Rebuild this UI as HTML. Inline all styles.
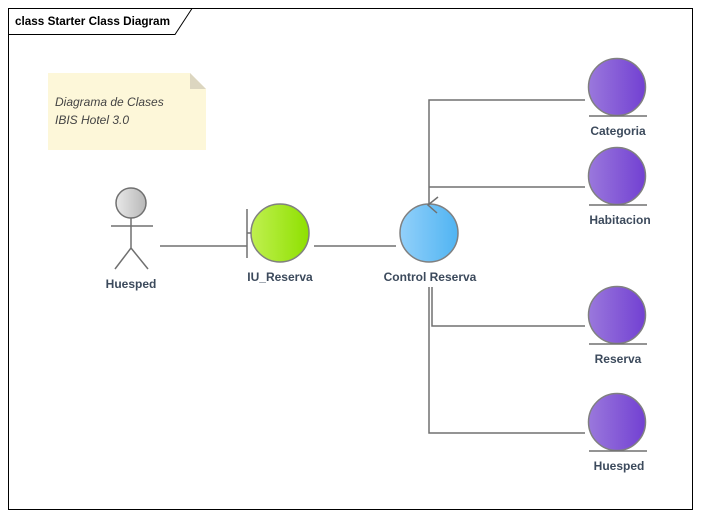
<!DOCTYPE html>
<html><head><style>body{margin:0;background:#fff}svg{display:block}text{font-family:"Liberation Sans",sans-serif}</style></head><body>
<svg width="701" height="518" viewBox="0 0 701 518">
<defs>
<linearGradient id="gp" x1="0" x2="1"><stop offset="0" stop-color="#9a78dc"/><stop offset="1" stop-color="#7240d2"/></linearGradient>
<linearGradient id="gb" x1="0" x2="1"><stop offset="0" stop-color="#92d0fa"/><stop offset="1" stop-color="#50b4f2"/></linearGradient>
<linearGradient id="gg" x1="0" x2="1"><stop offset="0" stop-color="#c0f050"/><stop offset="1" stop-color="#8ee000"/></linearGradient>
<linearGradient id="ga" x1="0" x2="1"><stop offset="0" stop-color="#e8e8e8"/><stop offset="1" stop-color="#b8b8b8"/></linearGradient>
</defs>
<rect x="8.5" y="8.5" width="684" height="501" fill="#fff" stroke="#000"/>
<path d="M8.5 34.5H175L192 8.5" fill="none" stroke="#000"/>
<text x="15" y="25" font-size="12" font-weight="bold" textLength="155" lengthAdjust="spacingAndGlyphs">class Starter Class Diagram</text>
<path d="M48 73H190L206 89V150H48Z" fill="#fdf7d9"/>
<path d="M190 73L206 89H190Z" fill="#dcd6c0"/>
<text x="55" y="106" font-size="12" font-style="italic" fill="#444">Diagrama de Clases</text>
<text x="55" y="124" font-size="12" font-style="italic" fill="#444">IBIS Hotel 3.0</text>
<g stroke="#808080" stroke-width="1.5">
<circle cx="280" cy="233" r="29" fill="url(#gg)"/>
<circle cx="429" cy="233" r="29" fill="url(#gb)"/>
<circle cx="617" cy="87" r="28.5" fill="url(#gp)"/>
<circle cx="617" cy="176" r="28.5" fill="url(#gp)"/>
<circle cx="617" cy="315" r="28.5" fill="url(#gp)"/>
<circle cx="617" cy="422" r="28.5" fill="url(#gp)"/>
</g>
<g stroke="#707070" stroke-width="1.5" fill="none">
<circle cx="131" cy="203" r="15" fill="url(#ga)"/>
<path d="M111 226H153M131 218V248L115 269M131 248L148 269"/>
<path d="M160 246H247M247 209V258M247 233H251M314 246H396"/>
<path d="M429 204V100H585M429 187H585M438 197L428 205L437 213"/>
<path d="M429 287V433H585M432 287V326H585"/>
<path d="M589 116H647M589 205H647M589 344H647M589 451H647"/>
</g>
<g font-size="12" font-weight="bold" fill="#3c4a5c" text-anchor="middle">
<text x="131" y="288">Huesped</text>
<text x="280" y="281">IU_Reserva</text>
<text x="430" y="281">Control Reserva</text>
<text x="618" y="135">Categoria</text>
<text x="620" y="224">Habitacion</text>
<text x="618" y="363">Reserva</text>
<text x="619" y="470">Huesped</text>
</g>
</svg>
</body></html>
